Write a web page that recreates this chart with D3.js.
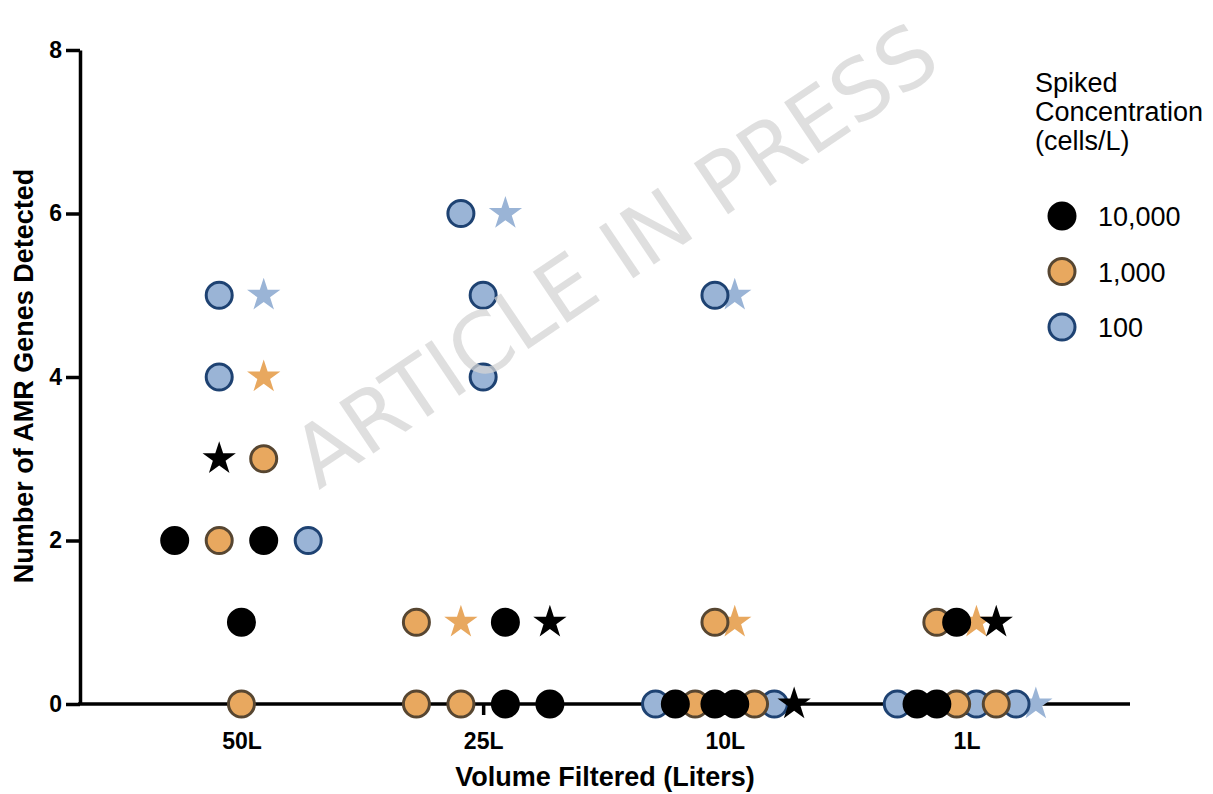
<!DOCTYPE html>
<html>
<head>
<meta charset="utf-8">
<script src="https://cdn.jsdelivr.net/npm/d3@7"></script>
<style>
body { margin: 0; background: #fff; }
svg { display: block; font-family: "Liberation Sans", Arial, sans-serif; }
.axis path, .axis line { stroke: #000; stroke-width: 3.5px; }
.axis text { font-size: 23px; font-weight: bold; fill: #000; }
.title { font-size: 27px; font-weight: bold; }
.legend text { font-size: 27px; }
</style>
</head>
<body>
<script>
// categories and series
var volumes = ["50L", "25L", "10L", "1L"];
var concentrations = ["10,000", "1,000", "100"];
var yTicks = [0, 2, 4, 6, 8];

// [genes detected, spiked concentration, marker], left to right within a row
var pts50L = [
  [5, "100", "circle"], [5, "100", "star"],
  [4, "100", "circle"], [4, "1,000", "star"],
  [3, "10,000", "star"], [3, "1,000", "circle"],
  [2, "10,000", "circle"], [2, "1,000", "circle"], [2, "10,000", "circle"], [2, "100", "circle"],
  [1, "10,000", "circle"],
  [0, "1,000", "circle"]
];
var pts25L = [
  [6, "100", "circle"], [6, "100", "star"],
  [5, "100", "circle"],
  [4, "100", "circle"],
  [1, "1,000", "circle"], [1, "1,000", "star"], [1, "10,000", "circle"], [1, "10,000", "star"],
  [0, "1,000", "circle"], [0, "1,000", "circle"], [0, "10,000", "circle"], [0, "10,000", "circle"]
];
var pts10L = [
  [5, "100", "circle"], [5, "100", "star"],
  [1, "1,000", "circle"], [1, "1,000", "star"],
  [0, "100", "circle"], [0, "10,000", "circle"], [0, "1,000", "circle"], [0, "10,000", "circle"],
  [0, "10,000", "circle"], [0, "1,000", "circle"], [0, "100", "circle"], [0, "10,000", "star"]
];
var pts1L = [
  [1, "1,000", "circle"], [1, "10,000", "circle"], [1, "1,000", "star"], [1, "10,000", "star"],
  [0, "100", "circle"], [0, "10,000", "circle"], [0, "10,000", "circle"], [0, "1,000", "circle"],
  [0, "100", "circle"], [0, "1,000", "circle"], [0, "100", "circle"], [0, "100", "star"]
];
var byVolume = {"50L": pts50L, "25L": pts25L, "10L": pts10L, "1L": pts1L};

var width = 1213, height = 794;
var fills = {"10,000": "#000000", "1,000": "#e8a85f", "100": "#9ab4d6"};
var strokes = {"10,000": "#000000", "1,000": "#574631", "100": "#1e4272"};
var spread = {"50L": 44.5, "25L": 44.5, "10L": 19.8, "1L": 19.8};

var svg = d3.select("body").append("svg")
    .attr("width", width)
    .attr("height", height);

var x = d3.scalePoint().domain(volumes).range([80, 1128]).padding(0.668);
var y = d3.scaleLinear().domain([0, 8]).range([704, 50]);

// flatten with in-row offsets
var points = [];
volumes.forEach(function(v) {
  var rows = d3.group(byVolume[v], d => d[0]);
  rows.forEach(function(row) {
    row.forEach(function(d, i) {
      points.push({vol: v, genes: d[0], conc: d[1], marker: d[2],
                   off: (i - (row.length - 1) / 2) * spread[v]});
    });
  });
});
// blue under orange under black, stars under circles of the same colour
var rank = {"100": 0, "1,000": 1, "10,000": 2};
points.sort((a, b) => (rank[a.conc] - rank[b.conc]) || ((a.marker === "circle") - (b.marker === "circle")));

// y axis
svg.append("g")
    .attr("class", "axis")
    .attr("transform", "translate(80,0)")
    .call(d3.axisLeft(y).tickValues(yTicks).tickSize(14).tickSizeOuter(0).tickPadding(4));

// x axis
var xAxis = svg.append("g")
    .attr("class", "axis")
    .attr("transform", "translate(0,704)")
    .call(d3.axisBottom(x).tickSize(11).tickPadding(18));
xAxis.select(".domain").remove();
xAxis.append("line")
    .attr("x1", 78).attr("x2", 1130)
    .attr("stroke", "#000").attr("stroke-width", 3.5);

// points
var star = d3.symbol().type(d3.symbolStar).size(344);
svg.append("g").selectAll(".pt")
  .data(points)
  .enter().each(function(d) {
    var px = x(d.vol) + d.off, py = y(d.genes);
    if (d.marker === "circle") {
      d3.select(this).append("circle")
        .attr("cx", px).attr("cy", py).attr("r", 13)
        .attr("fill", fills[d.conc])
        .attr("stroke", strokes[d.conc])
        .attr("stroke-width", 3);
    } else {
      d3.select(this).append("path")
        .attr("d", star())
        .attr("transform", "translate(" + px + "," + py + ")")
        .attr("fill", fills[d.conc]);
    }
  });

// axis titles
svg.append("text")
    .attr("class", "title")
    .attr("text-anchor", "middle")
    .attr("transform", "translate(33,376) rotate(-90)")
    .text("Number of AMR Genes Detected");
svg.append("text")
    .attr("class", "title")
    .attr("text-anchor", "middle")
    .attr("x", 605).attr("y", 786)
    .text("Volume Filtered (Liters)");

// legend
var legend = svg.append("g").attr("class", "legend");
var ltitle = legend.append("text").attr("x", 1035).attr("y", 92);
["Spiked", "Concentration", "(cells/L)"].forEach(function(t, i) {
  ltitle.append("tspan").attr("x", 1035).attr("dy", i ? 29 : 0).text(t);
});
var item = legend.selectAll(".item")
  .data(concentrations)
  .enter().append("g")
  .attr("transform", (d, i) => "translate(1062," + (216 + i * 55.5) + ")");
item.append("circle")
  .attr("r", 13)
  .attr("fill", d => fills[d])
  .attr("stroke", d => strokes[d])
  .attr("stroke-width", 3);
item.append("text")
  .attr("x", 36).attr("y", 10)
  .text(d => d);

// watermark
svg.append("text")
  .attr("transform", "translate(615,255) rotate(-34)")
  .attr("text-anchor", "middle")
  .attr("dy", "0.35em")
  .style("font-family", "'DejaVu Sans'")
  .style("font-size", "84px")
  .attr("fill", "#d4d4d4")
  .attr("fill-opacity", 0.75)
  .text("ARTICLE IN PRESS");
</script>
</body>
</html>
